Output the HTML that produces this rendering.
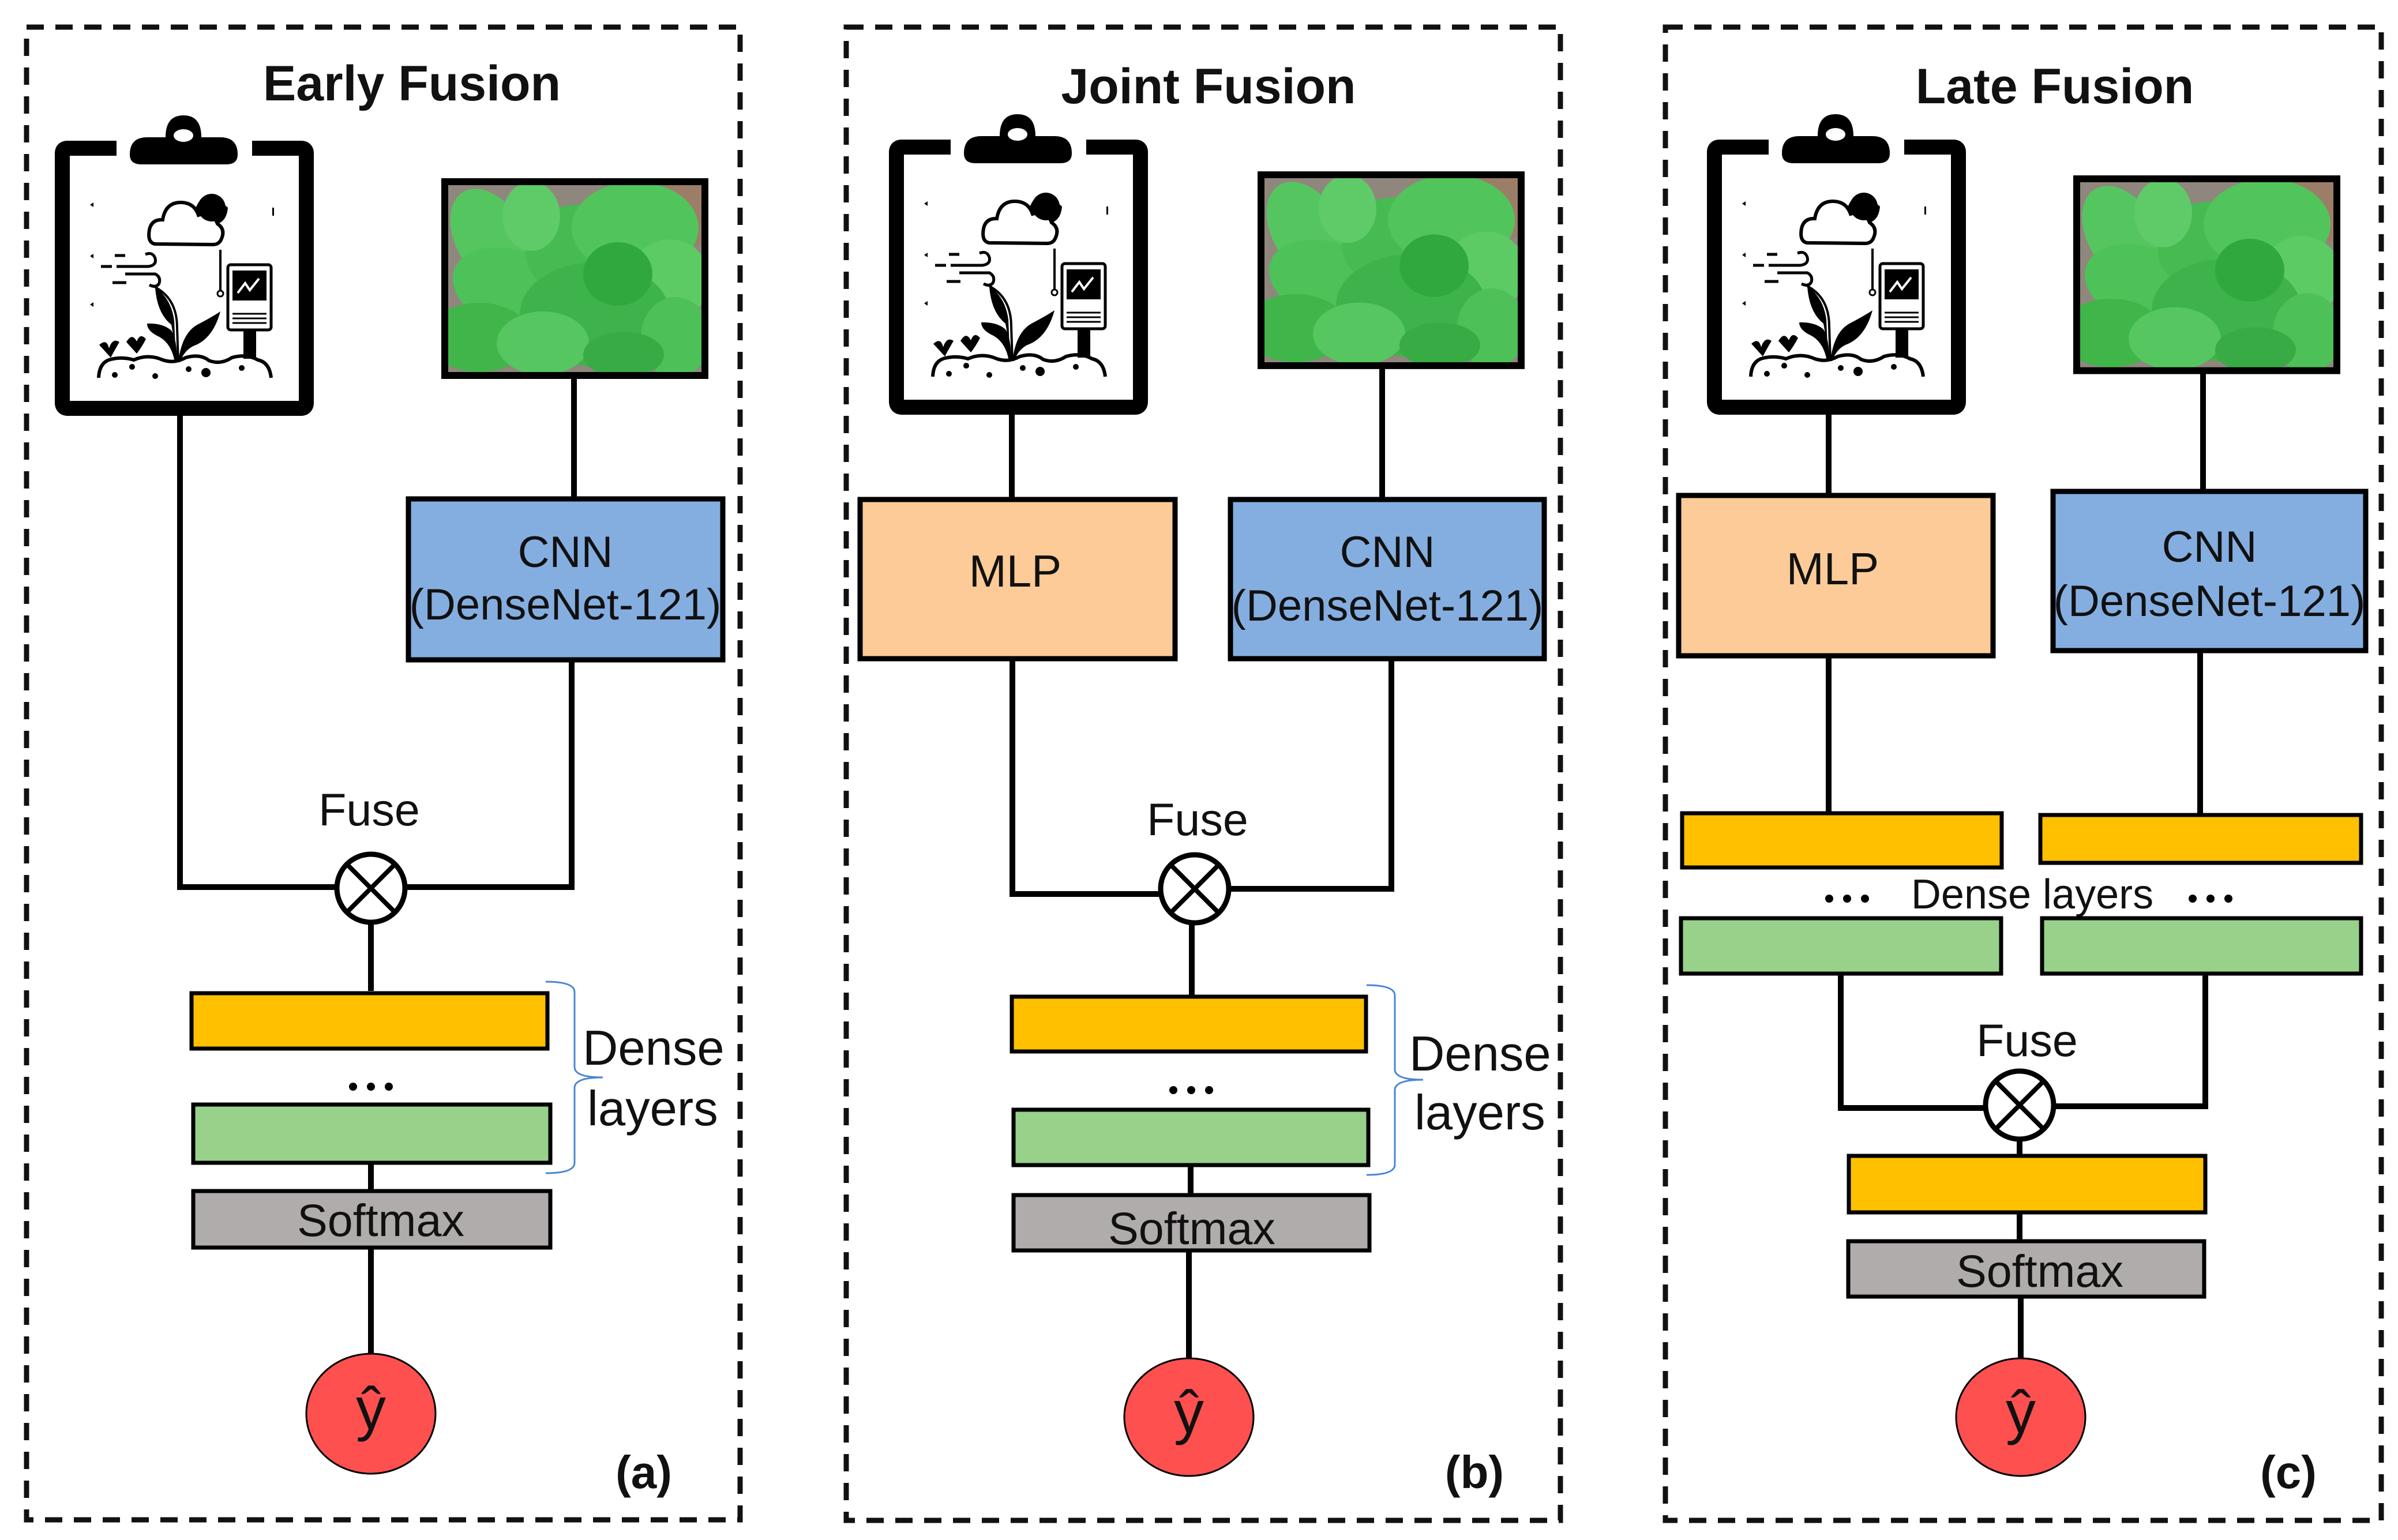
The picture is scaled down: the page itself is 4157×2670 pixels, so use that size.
<!DOCTYPE html>
<html><head><meta charset="utf-8"><style>
html,body{margin:0;padding:0;background:#fff;}
svg{display:block;}
text{font-family:"Liberation Sans",Arial,sans-serif;fill:#111;}
</style></head><body>
<svg width="4157" height="2670" viewBox="0 0 4157 2670" xmlns="http://www.w3.org/2000/svg">
<defs>
<clipPath id="pc"><rect x="0" y="0" width="451" height="336"/></clipPath>
<g id="clip">
  <path d="M205,269 L120,269 Q111,269 111,278 L111,710 Q111,720 121,720 L524,720 Q534,720 534,710 L534,278 Q534,269 525,269 L440,269" fill="none" stroke="#000" stroke-width="26"/>
  <path d="M228,280 Q228,250 258,250 L290,250 Q290,212 321,212 Q352,212 352,250 L385,250 Q415,250 415,280 Q415,297 395,297 L248,297 Q228,297 228,280 Z" fill="#000"/>
  <ellipse cx="321" cy="247" rx="17" ry="11" fill="#fff"/>
  <path d="M272,435 Q258,433 262,410 Q266,392 285,393 Q290,362 318,363 Q340,364 347,385 Q372,378 380,400 Q395,410 386,428 Q382,436 372,436 Z" fill="#fff" stroke="#000" stroke-width="6"/>
  <circle cx="370" cy="372" r="24" fill="#000"/>
  <path d="M340,378 Q352,345 372,350 L398,372 Q396,395 380,400 Q372,378 347,385 Z" fill="#000"/>
  <g stroke="#000" stroke-width="5" fill="none">
    <path d="M202,455 L220,455"/><path d="M178,474 L197,474"/><path d="M205,474 L260,474 Q275,472 272,460 Q268,448 255,453"/>
    <path d="M220,487 L272,487 Q282,492 279,503 Q274,512 262,506"/><path d="M198,502 L222,502"/>
  </g>
  <path d="M308,640 Q305,600 300,575 Q275,555 272,510 Q300,530 305,568" fill="#000"/>
  <path d="M272,510 Q310,530 310,580 L312,640" fill="none" stroke="#000" stroke-width="4"/>
  <path d="M312,640 Q318,590 345,575 Q370,562 385,552 Q372,600 338,612 Q322,620 315,640 Z" fill="#000"/>
  <path d="M306,640 Q300,605 275,594 Q258,585 258,573 Q285,572 300,585 Q310,600 310,640 Z" fill="#000"/>
  <path d="M175,610 Q188,598 192,616 Q198,597 210,605 Q200,622 195,632" fill="#000"/>
  <path d="M222,605 Q232,588 240,604 Q246,588 256,600 Q248,615 240,625" fill="#000"/>
  <line x1="385" y1="445" x2="385" y2="520" stroke="#000" stroke-width="4"/>
  <circle cx="385" cy="521" r="5" fill="#fff" stroke="#000" stroke-width="3"/>
  <rect x="398" y="471" width="75" height="113" rx="5" fill="#fff" stroke="#000" stroke-width="5"/>
  <rect x="406" y="481" width="59" height="52" fill="#000"/>
  <path d="M415,520 L428,503 L436,515 L452,495" stroke="#fff" stroke-width="4" fill="none"/>
  <g stroke="#000" stroke-width="3"><line x1="406" y1="556" x2="465" y2="556"/><line x1="406" y1="564" x2="465" y2="564"/><line x1="406" y1="572" x2="465" y2="572"/></g>
  <rect x="425" y="584" width="22" height="50" fill="#000"/>
  <path d="M174,667 Q175,640 195,635 Q215,630 235,636 Q260,625 285,636 Q305,643 325,632 Q350,625 365,637 Q385,645 405,632 Q430,625 450,636 Q470,640 473,667" fill="none" stroke="#000" stroke-width="6"/>
  <g fill="#000"><circle cx="202" cy="662" r="5"/><circle cx="232" cy="648" r="5"/><circle cx="272" cy="664" r="5"/><circle cx="330" cy="652" r="5"/><circle cx="360" cy="658" r="8"/><circle cx="422" cy="650" r="5"/></g>
  <g fill="#000"><path d="M165,363 l-6,4 l6,4z"/><path d="M165,452 l-6,4 l6,4z"/><path d="M165,536 l-6,4 l6,4z"/><rect x="475" y="372" width="3" height="14"/></g>
</g>
<g id="photo">
  <g clip-path="url(#pc)">
  <rect x="0" y="0" width="451" height="336" fill="#8f877d"/>
  <rect x="320" y="0" width="131" height="110" fill="#9c7e68"/>
  <g fill="#4cc259">
    <ellipse cx="80" cy="100" rx="60" ry="95" transform="rotate(-30 80 100)" fill="#55c65f"/>
    <ellipse cx="120" cy="190" rx="110" ry="70" transform="rotate(20 120 190)"/>
    <ellipse cx="60" cy="270" rx="90" ry="60" fill="#3fb54a"/>
    <ellipse cx="230" cy="120" rx="90" ry="80" fill="#45bb52"/>
    <ellipse cx="330" cy="80" rx="110" ry="80" fill="#52c45c"/>
    <ellipse cx="390" cy="170" rx="70" ry="70" fill="#5ccb64"/>
    <ellipse cx="260" cy="230" rx="130" ry="90" fill="#3fb34b"/>
    <ellipse cx="170" cy="280" rx="80" ry="55" fill="#56c661"/>
    <ellipse cx="400" cy="270" rx="60" ry="70" fill="#4dc057"/>
    <ellipse cx="310" cy="300" rx="70" ry="40" fill="#38ab45"/>
    <ellipse cx="150" cy="60" rx="50" ry="60" fill="#5ecb68"/>
    <ellipse cx="300" cy="160" rx="60" ry="55" fill="#30a83e"/>
  </g>
  </g>
  <rect x="0" y="0" width="451" height="336" fill="none" stroke="#000" stroke-width="12"/>
</g>
</defs>

<g fill="none" stroke="#111" stroke-width="9" stroke-dasharray="30,20">
  <rect x="46" y="47" width="1237" height="2588"/>
  <rect x="1467" y="47" width="1238" height="2589"/>
  <rect x="2887" y="47" width="1241" height="2589"/>
</g>

<text x="714" y="174" font-size="86" font-weight="bold" text-anchor="middle">Early Fusion</text>
<use href="#clip" transform="translate(-3,-12)"/>
<use href="#photo" transform="translate(771,315)"/>
<g stroke="#000" stroke-width="10" fill="none">
  <line x1="995" y1="651" x2="995" y2="861"/>
  <path d="M312,708 L312,1538 L585,1538"/>
  <path d="M991,1148 L991,1538 L701,1538"/>
  <line x1="643" y1="1600" x2="643" y2="1718"/>
  <line x1="643" y1="2018" x2="643" y2="2062"/>
  <line x1="643" y1="2165" x2="643" y2="2347"/>
</g>
<rect x="708" y="865" width="545" height="279" fill="#85aee0" stroke="#000" stroke-width="9"/>
<text x="980" y="983" font-size="76" text-anchor="middle">CNN</text>
<text x="980" y="1074" font-size="76" text-anchor="middle">(DenseNet-121)</text>
<text x="640" y="1431" font-size="79" text-anchor="middle">Fuse</text>
<circle cx="643" cy="1540" r="59" fill="#fff" stroke="#000" stroke-width="9"/>
<g stroke="#000" stroke-width="8"><line x1="601" y1="1498" x2="685" y2="1582"/><line x1="685" y1="1498" x2="601" y2="1582"/></g>
<rect x="332" y="1722" width="617" height="96" fill="#ffc000" stroke="#000" stroke-width="7"/>
<g fill="#000"><circle cx="612" cy="1884" r="7"/><circle cx="643" cy="1884" r="7"/><circle cx="674" cy="1884" r="7"/></g>
<rect x="335" y="1915" width="619" height="101" fill="#97d18a" stroke="#000" stroke-width="7"/>
<rect x="335" y="2065" width="619" height="98" fill="#b0acab" stroke="#000" stroke-width="7"/>
<text x="660" y="2143" font-size="79" text-anchor="middle">Softmax</text>
<path d="M946,1702 Q996,1702 996,1720 L996,1850 Q996,1868 1045,1868 Q996,1868 996,1886 L996,2016 Q996,2034 946,2034" fill="none" stroke="#4a86d0" stroke-width="3"/>
<text x="1010" y="1846" font-size="85">Dense</text>
<text x="1018" y="1951" font-size="85">layers</text>
<ellipse cx="643" cy="2451" rx="112" ry="104" fill="#ff5050" stroke="#000" stroke-width="3"/>
<text x="643" y="2478" font-size="104" text-anchor="middle">ŷ</text>
<text x="1116" y="2580" font-size="80" font-weight="bold" text-anchor="middle">(a)</text>

<text x="2095" y="179" font-size="86" font-weight="bold" text-anchor="middle">Joint Fusion</text>
<use href="#clip" transform="translate(1443,-14)"/>
<use href="#photo" transform="translate(2186,303) scale(1,0.985)"/>
<g stroke="#000" stroke-width="10" fill="none">
  <line x1="1754" y1="706" x2="1754" y2="862"/>
  <line x1="2396" y1="634" x2="2396" y2="862"/>
  <path d="M1755,1146 L1755,1550 L2013,1550"/>
  <path d="M2412,1146 L2412,1541 L2129,1541"/>
  <line x1="2066" y1="1600" x2="2066" y2="1725"/>
  <line x1="2064" y1="2023" x2="2064" y2="2069"/>
  <line x1="2061" y1="2171" x2="2061" y2="2355"/>
</g>
<rect x="1491" y="866" width="546" height="276" fill="#fdcb97" stroke="#000" stroke-width="9"/>
<text x="1760" y="1017" font-size="78" text-anchor="middle">MLP</text>
<rect x="2133" y="866" width="544" height="276" fill="#85aee0" stroke="#000" stroke-width="9"/>
<text x="2405" y="983" font-size="76" text-anchor="middle">CNN</text>
<text x="2405" y="1076" font-size="76" text-anchor="middle">(DenseNet-121)</text>
<text x="2076" y="1448" font-size="79" text-anchor="middle">Fuse</text>
<circle cx="2071" cy="1541" r="59" fill="#fff" stroke="#000" stroke-width="9"/>
<g stroke="#000" stroke-width="8"><line x1="2029" y1="1499" x2="2113" y2="1583"/><line x1="2113" y1="1499" x2="2029" y2="1583"/></g>
<rect x="1754" y="1728" width="614" height="95" fill="#ffc000" stroke="#000" stroke-width="7"/>
<g fill="#000"><circle cx="2034" cy="1890" r="7"/><circle cx="2065" cy="1890" r="7"/><circle cx="2096" cy="1890" r="7"/></g>
<rect x="1757" y="1924" width="615" height="96" fill="#97d18a" stroke="#000" stroke-width="7"/>
<rect x="1757" y="2072" width="617" height="96" fill="#b0acab" stroke="#000" stroke-width="7"/>
<text x="2066" y="2157" font-size="79" text-anchor="middle">Softmax</text>
<path d="M2369,1708 Q2418,1708 2418,1726 L2418,1854 Q2418,1872 2467,1872 Q2418,1872 2418,1890 L2418,2019 Q2418,2037 2369,2037" fill="none" stroke="#4a86d0" stroke-width="3"/>
<text x="2443" y="1856" font-size="85">Dense</text>
<text x="2452" y="1958" font-size="85">layers</text>
<ellipse cx="2061" cy="2457" rx="112" ry="102" fill="#ff5050" stroke="#000" stroke-width="3"/>
<text x="2061" y="2484" font-size="104" text-anchor="middle">ŷ</text>
<text x="2556" y="2580" font-size="80" font-weight="bold" text-anchor="middle">(b)</text>

<text x="3562" y="179" font-size="86" font-weight="bold" text-anchor="middle">Late Fusion</text>
<use href="#clip" transform="translate(2861,-14)"/>
<use href="#photo" transform="translate(3600,310) scale(1,0.99)"/>
<g stroke="#000" stroke-width="10" fill="none">
  <line x1="3170" y1="706" x2="3170" y2="855"/>
  <line x1="3819" y1="642" x2="3819" y2="848"/>
  <line x1="3170" y1="1141" x2="3170" y2="1407"/>
  <line x1="3814" y1="1132" x2="3814" y2="1410"/>
  <path d="M3191,1691 L3191,1921 L3443,1921"/>
  <path d="M3823,1691 L3823,1918 L3559,1918"/>
  <line x1="3501" y1="1975" x2="3501" y2="2001"/>
  <line x1="3501" y1="2105" x2="3501" y2="2149"/>
  <line x1="3503" y1="2251" x2="3503" y2="2355"/>
</g>
<rect x="2910" y="859" width="545" height="278" fill="#fdcb97" stroke="#000" stroke-width="9"/>
<text x="3177" y="1013" font-size="78" text-anchor="middle">MLP</text>
<rect x="3559" y="852" width="542" height="276" fill="#85aee0" stroke="#000" stroke-width="9"/>
<text x="3830" y="974" font-size="76" text-anchor="middle">CNN</text>
<text x="3830" y="1068" font-size="76" text-anchor="middle">(DenseNet-121)</text>
<rect x="2916" y="1410" width="554" height="94" fill="#ffc000" stroke="#000" stroke-width="7"/>
<rect x="3537" y="1413" width="556" height="83" fill="#ffc000" stroke="#000" stroke-width="7"/>
<g fill="#000"><circle cx="3171" cy="1558" r="7"/><circle cx="3202" cy="1558" r="7"/><circle cx="3233" cy="1558" r="7"/>
<circle cx="3801" cy="1558" r="7"/><circle cx="3832" cy="1558" r="7"/><circle cx="3863" cy="1558" r="7"/></g>
<text x="3523" y="1575" font-size="72" text-anchor="middle">Dense layers</text>
<rect x="2914" y="1592" width="555" height="96" fill="#97d18a" stroke="#000" stroke-width="7"/>
<rect x="3540" y="1592" width="553" height="96" fill="#97d18a" stroke="#000" stroke-width="7"/>
<text x="3514" y="1831" font-size="79" text-anchor="middle">Fuse</text>
<circle cx="3501" cy="1916" r="59" fill="#fff" stroke="#000" stroke-width="9"/>
<g stroke="#000" stroke-width="8"><line x1="3459" y1="1874" x2="3543" y2="1958"/><line x1="3543" y1="1874" x2="3459" y2="1958"/></g>
<rect x="3205" y="2004" width="618" height="98" fill="#ffc000" stroke="#000" stroke-width="7"/>
<rect x="3204" y="2152" width="617" height="96" fill="#b0acab" stroke="#000" stroke-width="7"/>
<text x="3536" y="2231" font-size="79" text-anchor="middle">Softmax</text>
<ellipse cx="3503" cy="2457" rx="112" ry="102" fill="#ff5050" stroke="#000" stroke-width="3"/>
<text x="3503" y="2484" font-size="104" text-anchor="middle">ŷ</text>
<text x="3967" y="2580" font-size="80" font-weight="bold" text-anchor="middle">(c)</text>
</svg>
</body></html>
